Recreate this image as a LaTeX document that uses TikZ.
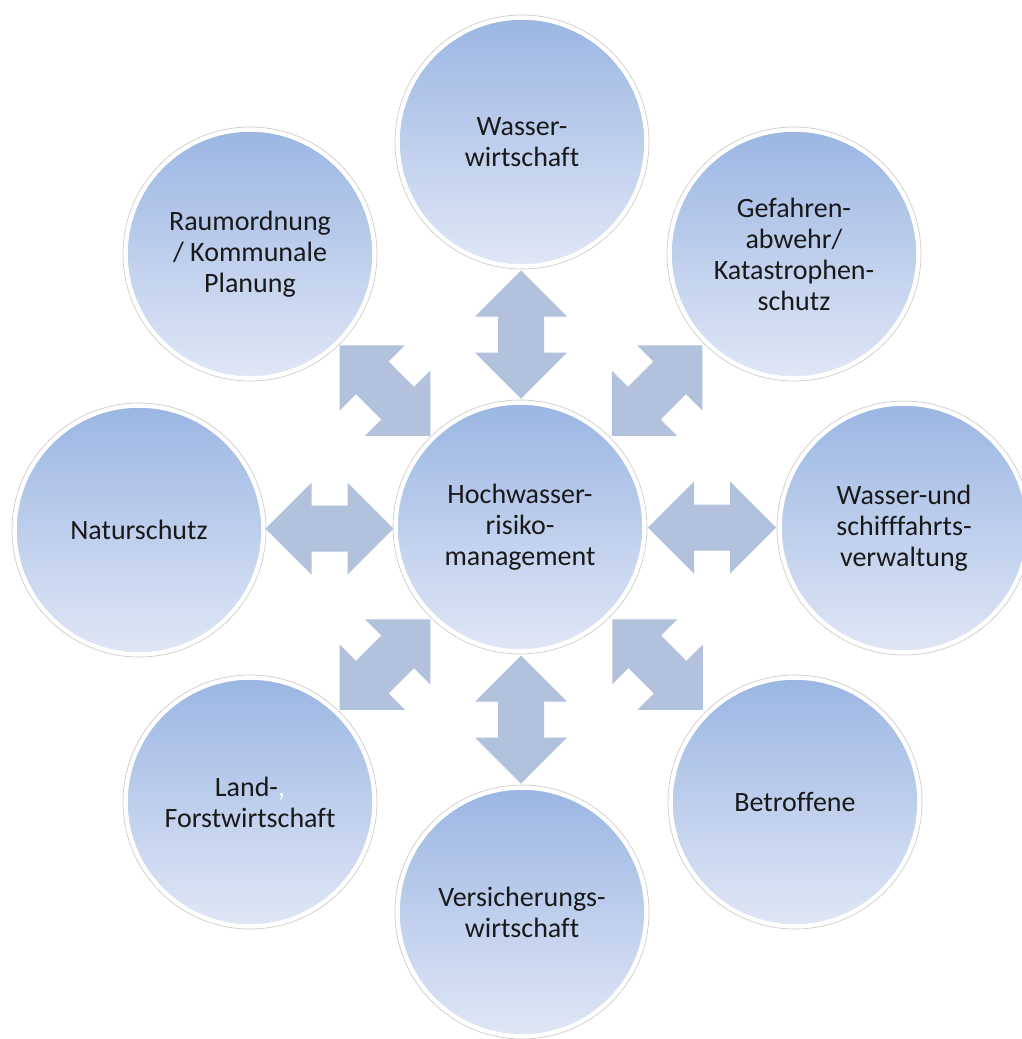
\documentclass[tikz,border=0pt]{standalone}
\usepackage{fontspec}
\setmainfont[Ligatures=NoCommon]{Carlito}
\usetikzlibrary{calc}
\definecolor{circtop}{RGB}{155,182,227}
\definecolor{circbot}{RGB}{224,231,246}
\definecolor{arrowc}{RGB}{178,193,220}
\definecolor{txt}{RGB}{25,25,25}
\begin{document}
\begin{tikzpicture}[x=1pt,y=-1pt,
  bubble/.style={circle, minimum size=249pt, inner sep=0pt,
    top color=circtop, bottom color=circbot, draw=white, line width=4.5pt,
    font=\fontsize{28}{31}\selectfont, align=center, text=txt},
  rim/.style={draw=black!22, line width=0.6pt},
  blockarrow/.style={fill=arrowc}]
\useasboundingbox (0,0) rectangle (1022,1039);
\fill[white] (0,0) rectangle (1022,1039);
\clip (0,0) rectangle (1022,1039);

\node[bubble] (c)  at (520,527) {Hochwasser-\\risiko-\\management};
\node[bubble] (n)  at (522,142) {Wasser-\\wirtschaft};
\node[bubble] (ne) at (794,254) {Gefahren-\\abwehr/\\Katastrophen-\\schutz};
\node[bubble] (e)  at (904,528) {Wasser-und\\schifffahrts-\\verwaltung};
\node[bubble] (se) at (795,802) {Betroffene};
\node[bubble] (s)  at (522,912) {Versicherungs-\\wirtschaft};
\node[bubble] (sw) at (250,802) {Land-{\color{white},}\\Forstwirtschaft};
\node[bubble] (w)  at (139,530) {Naturschutz};
\node[bubble] (nw) at (250,254) {Raumordnung\\/ Kommunale\\Planung};

\foreach \nd in {c,n,ne,e,se,s,sw,w,nw}
  \draw[rim] (\nd.center) circle[radius=127pt];

\foreach \nd/\ang in {n/90, ne/45, e/0, se/-45, s/90, sw/45, w/0, nw/-45}
  \fill[blockarrow, shift={($(c)!0.5!(\nd)$)}, rotate=\ang]
    (-64,0) -- (-18,-46) -- (-18,-23) -- (18,-23) -- (18,-46) -- (64,0)
    -- (18,46) -- (18,23) -- (-18,23) -- (-18,46) -- cycle;
\end{tikzpicture}
\end{document}
